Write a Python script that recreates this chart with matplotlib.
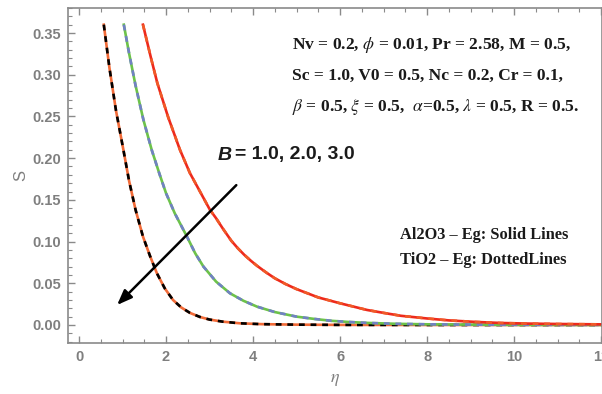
import matplotlib
matplotlib.use("Agg")
import matplotlib.pyplot as plt
from matplotlib.ticker import MultipleLocator

plt.rcParams["mathtext.fontset"] = "stix"

# ---- data ----
eta_b3 = [0.57, 0.7, 0.85, 1.02, 1.15, 1.3, 1.47, 1.63, 1.79, 1.97, 2.16, 2.35, 2.55, 2.78,
          3.0, 3.3, 3.7, 4.2, 5.0, 6.0, 8.0, 12.1]
s_b3 = [0.36, 0.308, 0.257, 0.21, 0.173, 0.138, 0.106, 0.083, 0.062, 0.044, 0.030, 0.021, 0.0145,
        0.0096, 0.0065, 0.004, 0.002, 0.001, 0.0004, 0.0001, 0.0, 0.0]

eta_b2 = [1.03, 1.15, 1.3, 1.48, 1.67, 1.85, 2.0, 2.2, 2.48, 2.67, 2.86, 3.15, 3.47, 3.78, 4.09,
          4.5, 5.0, 5.4, 5.8, 6.2, 6.62, 7.3, 8.0, 9.0, 10.0, 12.1]
s_b2 = [0.36, 0.326, 0.287, 0.246, 0.21, 0.181, 0.158, 0.134, 0.106, 0.086, 0.070, 0.052, 0.038,
        0.029, 0.022, 0.0155, 0.010, 0.0073, 0.005, 0.0036, 0.0025, 0.0014, 0.0008, 0.0004,
        0.0002, 0.00005]

eta_b1 = [1.47, 1.65, 1.8, 2.05, 2.32, 2.55, 2.78, 3.01, 3.15, 3.3, 3.5, 3.65, 3.8, 3.95, 4.09,
          4.3, 4.5, 4.75, 5.0, 5.5, 6.0, 6.62, 7.0, 7.4, 8.0, 8.5, 9.1, 9.7, 10.3, 11.0, 12.1]
s_b1 = [0.36, 0.321, 0.29, 0.249, 0.21, 0.182, 0.160, 0.138, 0.128, 0.116, 0.101, 0.092, 0.084,
        0.077, 0.071, 0.063, 0.056, 0.049, 0.043, 0.033, 0.026, 0.018, 0.0145, 0.011, 0.0078,
        0.0055, 0.0037, 0.0024, 0.0017, 0.0012, 0.0007]

x_ticks = [0, 2, 4, 6, 8, 10, 12]
y_ticks = [0.00, 0.05, 0.10, 0.15, 0.20, 0.25, 0.30, 0.35]

params_lines = [
    r"Nv = 0.2, $\phi$ = 0.01, Pr = 2.58, M = 0.5,",
    r"Sc = 1.0, V0 = 0.5, Nc = 0.2, Cr = 0.1,",
    r"$\beta$ = 0.5, $\xi$ = 0.5,  $\alpha$=0.5, $\lambda$ = 0.5, R = 0.5.",
]

W, H = 602, 394
fig = plt.figure(figsize=(W / 100, H / 100), dpi=100)
ax = fig.add_axes([68 / W, (H - 343) / H, 534 / W, 335 / H])

grey = "#7f7f7f"
lw = 1.9
dash = (2.2, 2.2)

# B = 3 (orange solid, black dashed)
ax.plot(eta_b3, s_b3, color="#f26b38", lw=lw)
ax.plot(eta_b3, s_b3, color="black", lw=lw, dashes=dash)
# B = 2 (green solid, blue dashed)
ax.plot(eta_b2, s_b2, color="#6cc24a", lw=lw)
ax.plot(eta_b2, s_b2, color="#7181c4", lw=lw, dashes=dash)
# B = 1 (red solid, orange dashed)
ax.plot(eta_b1, s_b1, color="#ee2a1c", lw=lw)
ax.plot(eta_b1, s_b1, color="#f05a28", lw=lw, dashes=dash)

ax.set_xlim(-0.253, 12.02)
ax.set_ylim(-0.0216, 0.380)
ax.set_xticks(x_ticks)
ax.set_yticks(y_ticks)
ax.set_yticklabels([f"{v:.2f}" for v in y_ticks])
ax.xaxis.set_minor_locator(MultipleLocator(0.5))
ax.yaxis.set_minor_locator(MultipleLocator(0.01))

for sp in ax.spines.values():
    sp.set_color("#8a8a8a")
    sp.set_linewidth(1.2)

ax.tick_params(which="both", direction="in", color="#8a8a8a", top=True, right=False)
ax.tick_params(which="major", length=5, width=1.0, labelsize=10.5, labelcolor=grey, pad=5)
ax.tick_params(which="minor", length=3, width=0.8)
for lab in ax.get_xticklabels() + ax.get_yticklabels():
    lab.set_family("Liberation Sans")
    lab.set_fontweight("bold")

ax.set_xlabel(r"$\eta$", fontsize=13, color=grey, labelpad=4)
ax.set_ylabel("S", fontsize=12, color=grey, family="Liberation Sans", labelpad=3)

# parameter block
for i, t in enumerate(params_lines):
    fig.text(292 / W, 1 - (45 + 31 * i) / H, t, fontsize=12.6, fontweight="bold",
             family="Liberation Serif", va="center", ha="left", color="#1a1a1a")

fig.text(218 / W, 1 - 155 / H, "B", fontsize=14, fontweight="bold", style="italic",
         family="Liberation Sans", va="center", ha="left", color="#1a1a1a")
fig.text(235 / W, 1 - 155 / H, "= 1.0, 2.0, 3.0", fontsize=14,
         fontweight="bold", family="Liberation Sans", va="center", ha="left", color="#1a1a1a")

fig.text(400 / W, 1 - 235 / H, "Al2O3 – Eg: Solid Lines", fontsize=11.8, fontweight="bold",
         family="Liberation Serif", va="center", ha="left", color="#1a1a1a")
fig.text(400 / W, 1 - 260 / H, "TiO2 – Eg: DottedLines", fontsize=11.8, fontweight="bold",
         family="Liberation Serif", va="center", ha="left", color="#1a1a1a")

ax.annotate("", xy=(0.83, 0.0216), xytext=(3.66, 0.170),
            arrowprops=dict(arrowstyle="-|>,head_length=0.9,head_width=0.35", color="black", lw=1.8))

fig.savefig("out.png", dpi=100, facecolor="white")
